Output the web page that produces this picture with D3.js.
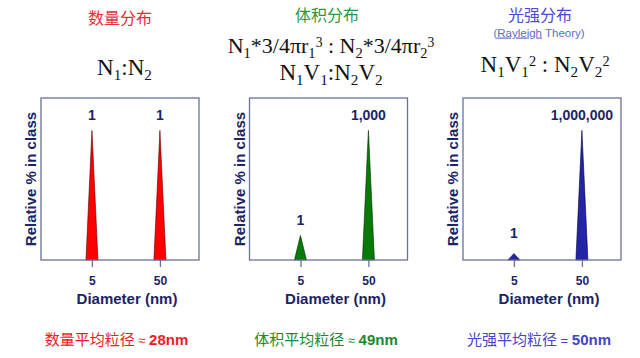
<!DOCTYPE html>
<html><head><meta charset="utf-8">
<script src="https://cdn.jsdelivr.net/npm/d3@7"></script>
<style>
body{margin:0;background:#fff;}
svg{display:block;}
</style></head>
<body>
<svg id="c" width="640" height="358"></svg>
<script>
// ---- data ----
const titles = ["数量分布", "体积分布", "光强分布"];
const diameters = [5, 50];
const tickLabels = ["5", "50"];
const heightsNumber = [100, 100];
const heightsVolume = [19, 100];
const heightsIntensity = [5, 100];
const peakLabelsNumber = ["1", "1"];
const peakLabelsVolume = ["1", "1,000"];
const peakLabelsIntensity = ["1", "1,000,000"];
const meanNames = ["数量平均粒径", "体积平均粒径", "光强平均粒径"];
const meanOps = ["≈", "≈", "="];
const meanValues = ["28nm", "49nm", "50nm"];
const xTitle = "Diameter (nm)";
const yTitle = "Relative % in class";
const subtitle = ["(", "Rayleigh", " Theory)"];

// ---- layout ----
const svg = d3.select("#c");
const titleColors = ["#ec2b36", "#2a9a40", "#4a4ad6"];
const meanColors = ["#ee1c24", "#1b8a2a", "#4444cc"];
const fills = ["#ff0000", "#087a08", "#2424a8"];
const strokes = ["#550000", "#002800", "#000033"];
const navy = "#1c2466";
const boxColor = "#6c7099";
const lefts = [41, 249.5, 463];
const centers = [120, 327, 540];
const boxW = 158, boxTop = 98, boxBottom = 260;
const heights = [heightsNumber, heightsVolume, heightsIntensity];
const peakLabels = [peakLabelsNumber, peakLabelsVolume, peakLabelsIntensity];
const sans = "'Liberation Sans', Arial, sans-serif";
const cjk = "'Noto Sans CJK SC', sans-serif";
const serif = "'Liberation Serif', 'Times New Roman', serif";

const yScale = d3.scaleLinear().domain([0, 125]).range([boxBottom, boxTop]);

titles.forEach((t, i) => {
  svg.append("text").attr("x", centers[i]).attr("y", i === 0 ? 24 : 21)
    .attr("text-anchor", "middle").attr("font-family", cjk).attr("font-size", 16)
    .attr("fill", titleColors[i]).text(t);
});

// subtitle
const st = svg.append("text").attr("x", 539).attr("y", 36.5).attr("text-anchor", "middle")
  .attr("font-family", sans).attr("font-size", 11.5).attr("fill", "#5b6cc4");
st.append("tspan").text(subtitle[0]);
st.append("tspan").text(subtitle[1]).style("text-decoration", "underline wavy #e02020");
st.append("tspan").text(subtitle[2]);

// formulas
function formula(x, yb, parts, size) {
  const t = svg.append("text").attr("x", x).attr("y", yb).attr("text-anchor", "middle")
    .attr("font-family", serif).attr("font-size", size).attr("fill", "#111");
  parts.forEach(p => {
    const s = t.append("tspan").text(p[0]);
    if (p[1] === "sub") s.attr("font-size", size * 0.66).attr("baseline-shift", "-30%");
    else if (p[1] === "sup") s.attr("font-size", size * 0.62).attr("baseline-shift", "45%");
  });
}
formula(124.5, 75, [["N"], ["1", "sub"], [":N"], ["2", "sub"]], 23);
formula(331, 53, [["N"], ["1", "sub"], ["*3/4πr"], ["1", "sub"], ["3", "sup"], [" : N"], ["2", "sub"], ["*3/4πr"], ["2", "sub"], ["3", "sup"]], 22);
formula(331, 80, [["N"], ["1", "sub"], ["V"], ["1", "sub"], [":N"], ["2", "sub"], ["V"], ["2", "sub"]], 23);
formula(545, 72, [["N"], ["1", "sub"], ["V"], ["1", "sub"], ["2", "sup"], [" : N"], ["2", "sub"], ["V"], ["2", "sub"], ["2", "sup"]], 23);

// panels
heights.forEach((hs, i) => {
  const L = lefts[i];
  const x = d3.scaleLog().domain([0.89, 188]).range([L, L + boxW]);
  const g = svg.append("g");
  diameters.forEach((d, j) => {
    const cx = x(d), hw = 6;
    g.append("path")
      .attr("d", `M${cx - hw},${yScale(0)}L${cx},${yScale(hs[j])}L${cx + hw},${yScale(0)}Z`)
      .attr("fill", fills[i]).attr("stroke", strokes[i]).attr("stroke-width", 0.6);
    g.append("text").attr("x", cx).attr("y", Math.min(yScale(hs[j]) - 10, boxBottom - 22))
      .attr("text-anchor", "middle").attr("font-family", sans).attr("font-weight", "bold")
      .attr("font-size", 14).attr("fill", navy).text(peakLabels[i][j]);
  });
  g.append("rect").attr("x", L).attr("y", boxTop).attr("width", boxW).attr("height", boxBottom - boxTop)
    .attr("fill", "none").attr("stroke", boxColor).attr("stroke-width", 1.3);
  const ax = d3.axisBottom(x).tickValues(diameters).tickFormat((d, k) => tickLabels[k])
    .tickSize(7).tickPadding(9);
  const axg = g.append("g").attr("transform", `translate(0,${boxBottom})`).call(ax);
  axg.select(".domain").remove();
  axg.selectAll(".tick line").attr("stroke", boxColor).attr("stroke-width", 1.3);
  axg.selectAll(".tick text").attr("font-family", sans).attr("font-weight", "bold")
    .attr("font-size", 12).attr("fill", navy);
  g.append("text").attr("x", L + boxW / 2 + 7).attr("y", 304).attr("text-anchor", "middle")
    .attr("font-family", sans).attr("font-weight", "bold").attr("font-size", 15)
    .attr("fill", navy).text(xTitle);
  g.append("text").attr("transform", `translate(${L - 5},${(boxTop + boxBottom) / 2}) rotate(-90)`)
    .attr("text-anchor", "middle").attr("font-family", sans).attr("font-weight", "bold")
    .attr("font-size", 15).attr("fill", navy).text(yTitle);
});

// means
const meanCenters = [116.5, 326, 539];
meanNames.forEach((n, i) => {
  const t = svg.append("text").attr("x", meanCenters[i]).attr("y", 345).attr("text-anchor", "middle")
    .attr("fill", meanColors[i]).attr("font-size", 15);
  t.append("tspan").attr("font-family", cjk).text(n);
  t.append("tspan").attr("font-family", sans).attr("font-size", 13).text(" " + meanOps[i] + " ");
  t.append("tspan").attr("font-family", sans).attr("font-weight", "bold").text(meanValues[i]);
});
</script>
</body></html>
